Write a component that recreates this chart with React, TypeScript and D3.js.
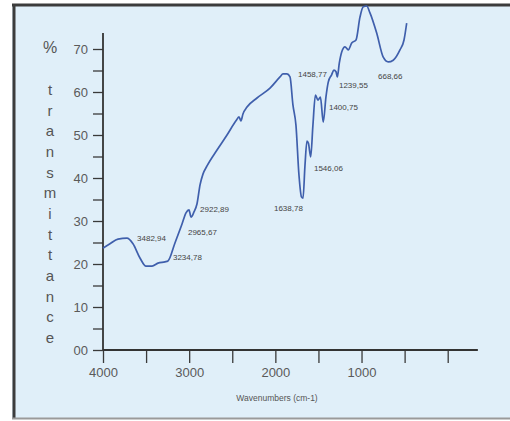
import * as d3 from 'd3';
import React, { useEffect, useRef } from 'react';

// FTIR spectrum: wavenumber (cm-1) vs % transmittance
const wavenumbers = [
  4000, 3919, 3826, 3722, 3652, 3571, 3501, 3431, 3362, 3281, 3246, 3165, 3083, 3037, 3002,
  2979, 2944, 2909, 2874, 2840, 2793, 2677, 2561, 2457, 2422, 2399, 2376, 2329, 2213, 2062,
  1946, 1911, 1865, 1830, 1796, 1761, 1726, 1697, 1679, 1656, 1633, 1616, 1590, 1564, 1535,
  1506, 1477, 1444, 1413, 1386, 1347, 1320, 1296, 1281, 1258, 1230, 1192, 1154, 1114, 1064,
  1018, 980, 940, 902, 824, 748, 690, 632, 554, 507, 476,
];
const transmittance = [
  23.7, 24.7, 25.8, 26.0, 24.7, 21.4, 19.5, 19.5, 20.2, 20.5, 20.7, 24.9, 29.3, 31.9, 32.6,
  30.9, 32.1, 34.0, 38.4, 40.9, 42.8, 46.5, 50.0, 53.3, 54.2, 53.3, 54.9, 56.5, 58.6, 60.9,
  63.5, 64.2, 64.2, 63.5, 57.0, 52.3, 40.7, 35.6, 35.3, 43.0, 48.6, 48.1, 44.9, 52.3, 59.3,
  58.1, 58.8, 53.0, 58.8, 62.3, 64.0, 65.1, 64.7, 63.5, 66.7, 69.3, 70.5, 69.8, 71.4, 72.1,
  77.4, 79.8, 80.0, 78.4, 73.7, 68.1, 67.0, 67.4, 69.8, 72.1, 76.0,
];

// peak labels, anchored at (wavenumber, transmittance) of the text start
const peakLabels = ['3482,94', '3234,78', '2965,67', '2922,89', '1638,78', '1546,06', '1400,75', '1458,77', '1239,55', '668,66'];
const peakLabelWn = [3605, 3188, 3014, 2874, 2016, 1552, 1378, 1737, 1262, 809];
const peakLabelT = [25.3, 20.9, 26.7, 32.1, 32.3, 41.6, 55.8, 63.5, 60.9, 63.0];

const xTicks = [4000, 3500, 3000, 2500, 2000, 1500, 1000, 500, 0];
const xTickLabels = ['4000', '', '3000', '', '2000', '', '1000', '', ''];
const yTicks = [0, 5, 10, 15, 20, 25, 30, 35, 40, 45, 50, 55, 60, 65, 70];
const yTickLabels = ['00', '', '10', '', '20', '', '30', '', '40', '', '50', '', '60', '', '70'];

const yTitle = ['t', 'r', 'a', 'n', 's', 'm', 'i', 't', 't', 'a', 'n', 'c', 'e'];

const W = 510;
const H = 421;

export default function App() {
  const svgRef = useRef<SVGSVGElement>(null);

  useEffect(() => {
    const svg = d3.select(svgRef.current);
    svg.selectAll('*').remove();

    const font = "'Liberation Sans Narrow', 'Liberation Sans', Arial, sans-serif";
    const bg = '#e0eff9';

    // frame
    svg.append('rect').attr('width', W).attr('height', H).attr('fill', '#ffffff');
    svg.append('rect').attr('x', 12).attr('y', 4).attr('width', W - 12).attr('height', 414).attr('fill', bg);
    svg.append('line').attr('x1', 12).attr('x2', W).attr('y1', 5).attr('y2', 5)
      .attr('stroke', '#3c3c3c').attr('stroke-width', 3);
    svg.append('line').attr('x1', 14).attr('x2', 14).attr('y1', 4).attr('y2', 419)
      .attr('stroke', '#3c3c3c').attr('stroke-width', 3);
    svg.append('line').attr('x1', 12).attr('x2', W).attr('y1', 418.5).attr('y2', 418.5)
      .attr('stroke', '#9a9a9a').attr('stroke-width', 2);

    const x = d3.scaleLinear().domain([4000, 0]).range([103, 447.7]);
    const y = d3.scaleLinear().domain([0, 70]).range([350, 49]);

    // x axis
    const xAxis = d3.axisBottom(x)
      .tickValues(xTicks)
      .tickSize(13)
      .tickSizeOuter(0)
      .tickPadding(5)
      .tickFormat((d, i) => xTickLabels[i]);
    const gx = svg.append('g').attr('transform', `translate(0,${y(0)})`).call(xAxis);
    gx.select('.domain').remove();
    gx.selectAll('line').attr('stroke', '#3a3a3a').attr('stroke-width', 1.3);
    gx.selectAll('text').attr('fill', '#5a5a5a').attr('font-size', 13).attr('font-family', font);
    svg.append('line')
      .attr('x1', x(4000)).attr('x2', x(-350))
      .attr('y1', y(0)).attr('y2', y(0))
      .attr('stroke', '#333').attr('stroke-width', 1.8);

    // y axis
    const yAxis = d3.axisLeft(y)
      .tickValues(yTicks)
      .tickSize(10)
      .tickSizeOuter(0)
      .tickPadding(5)
      .tickFormat((d, i) => yTickLabels[i]);
    const gy = svg.append('g').attr('transform', `translate(${x(4000)},0)`).call(yAxis);
    gy.select('.domain').remove();
    gy.selectAll('line').attr('stroke', '#3a3a3a').attr('stroke-width', 1.3);
    gy.selectAll('text').attr('fill', '#5a5a5a').attr('font-size', 13).attr('font-family', font);
    svg.append('line')
      .attr('x1', x(4000)).attr('x2', x(4000))
      .attr('y1', y(0)).attr('y2', y(73.7))
      .attr('stroke', '#333').attr('stroke-width', 1.8);

    // y title, stacked letters
    svg.append('text')
      .attr('x', 50).attr('y', 53)
      .attr('text-anchor', 'middle')
      .attr('font-family', font).attr('font-size', 16).attr('fill', '#555')
      .text('%');
    svg.append('g').selectAll('text')
      .data(yTitle)
      .join('text')
      .attr('x', 50)
      .attr('y', (d, i) => 95 + i * 20.67)
      .attr('text-anchor', 'middle')
      .attr('font-family', font).attr('font-size', 15).attr('fill', '#555')
      .text(d => d);

    // x title
    svg.append('text')
      .attr('x', 277).attr('y', 401)
      .attr('text-anchor', 'middle')
      .attr('font-family', font).attr('font-size', 8.5).attr('fill', '#555')
      .text('Wavenumbers (cm-1)');

    // spectrum
    const data = wavenumbers.map((w, i) => ({ w, t: transmittance[i] }));
    const line = d3.line<{ w: number; t: number }>()
      .x(d => x(d.w))
      .y(d => y(d.t))
      .curve(d3.curveMonotoneX);
    svg.append('path')
      .datum(data)
      .attr('fill', 'none')
      .attr('stroke', '#3f5fac')
      .attr('stroke-width', 1.7)
      .attr('stroke-linejoin', 'round')
      .attr('d', line);

    // peak labels
    svg.append('g').selectAll('text')
      .data(peakLabels)
      .join('text')
      .attr('x', (d, i) => x(peakLabelWn[i]))
      .attr('y', (d, i) => y(peakLabelT[i]))
      .attr('font-family', font).attr('font-size', 8).attr('fill', '#444')
      .text(d => d);
  }, []);

  return (
    <svg ref={svgRef} width={W} height={H} style={{ position: 'absolute', left: 0, top: 0 }} />
  );
}
